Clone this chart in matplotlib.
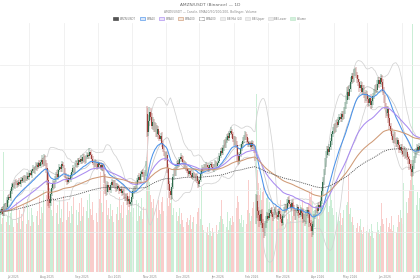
import matplotlib
matplotlib.use("Agg")
import matplotlib.pyplot as plt
import matplotlib.dates as mdates
import numpy as np
import pandas as pd
from matplotlib.patches import Rectangle

# ---------------- data ----------------
start_date = "2025-06-20"
first_open = 189.4
# days that opened with a gap (day index -> open price)
gap_opens = {132: 236.5, 230: 188.0}

closes = [
    190.0, 191.2, 188.8, 191.5, 193.0, 192.1, 195.4, 197.0, 196.2, 199.5,
    201.8, 203.0, 202.1, 204.2, 203.5, 202.6, 204.0, 203.1, 205.2, 204.6,
    205.8, 204.9, 206.3, 205.5, 207.0, 206.2, 208.4, 207.5, 209.3, 210.1,
    209.0, 210.8, 212.2, 211.0, 212.9, 211.8, 213.5, 214.6, 212.7, 215.0,
    213.2, 210.5, 205.0, 196.0, 194.2, 198.5, 201.3, 203.6, 202.2, 205.4,
    207.8, 206.5, 209.6, 211.2, 210.0, 212.4, 211.5, 209.2, 207.0, 205.3,
    204.1, 206.0, 204.8, 207.2, 208.8, 210.5, 209.4, 211.8, 213.0, 212.1,
    214.3, 213.5, 215.2, 214.0, 216.1, 215.0, 213.8, 215.9, 217.0, 216.2,
    218.3, 216.8, 214.9, 213.2, 212.0, 213.6, 212.5, 211.3, 213.0, 212.2,
    210.8, 211.9, 210.6, 206.0, 201.0, 199.2, 202.8, 201.5, 200.2, 202.6,
    203.8, 202.5, 204.0, 201.9, 200.8, 202.3, 201.2, 199.6, 200.9, 198.8,
    199.9, 197.6, 196.0, 197.2, 194.8, 195.9, 193.6, 194.5, 196.8, 199.5,
    201.0, 200.2, 202.4, 204.8, 206.5, 205.2, 207.8, 209.0, 207.6, 206.2,
    208.5, 209.5, 228.0, 233.0, 237.5, 235.2, 231.0, 232.6, 229.5, 230.8,
    227.0, 229.3, 226.4, 224.8, 226.2, 222.5, 219.8, 217.5, 215.6, 216.8,
    210.5, 203.0, 199.5, 197.6, 201.8, 206.2, 209.4, 208.0, 211.5, 213.0,
    212.1, 214.8, 216.0, 215.2, 213.4, 211.6, 212.8, 210.5, 209.3, 208.0,
    209.1, 207.4, 206.3, 208.2, 207.0, 205.8, 206.9, 204.5, 203.0, 205.2,
    208.0, 210.4, 209.5, 211.6, 210.8, 212.3, 211.0, 209.8, 211.9, 212.7,
    211.4, 210.2, 212.0, 213.1, 211.8, 212.9, 214.2, 216.5, 218.9, 218.0,
    220.4, 222.8, 221.3, 224.0, 226.1, 225.0, 227.4, 228.3, 226.8, 224.5,
    222.9, 224.6, 221.8, 216.5, 214.0, 217.2, 220.3, 222.0, 223.8, 225.4,
    226.9, 225.5, 223.2, 221.9, 222.6, 220.9, 222.5, 221.0, 219.2, 216.0,
    195.0, 190.0, 188.2, 185.5, 188.8, 184.6, 182.0, 179.8, 183.4, 186.2,
    188.0, 186.9, 189.4, 190.5, 188.6, 187.3, 189.8, 190.9, 188.4, 187.5,
    190.2, 188.8, 186.5, 184.6, 187.9, 190.6, 192.4, 191.1, 194.0, 195.6,
    193.5, 191.8, 194.2, 192.0, 189.5, 187.2, 190.3, 191.9, 189.4, 188.2,
    190.5, 189.3, 186.4, 187.8, 185.2, 189.0, 190.8, 188.6, 184.5, 182.9,
    180.6, 183.8, 187.5, 189.2, 191.6, 190.2, 192.8, 191.5, 195.0, 199.5,
    204.0, 208.5, 213.2, 217.0, 219.6, 218.2, 220.8, 223.5, 226.8, 228.4,
    230.2, 229.0, 232.5, 231.4, 233.8, 235.2, 234.0, 236.6, 235.3, 238.0,
    240.5, 243.0, 246.8, 245.2, 248.6, 252.0, 254.5, 253.0, 255.8, 256.9,
    255.2, 253.4, 251.6, 249.0, 250.5, 247.2, 248.8, 245.9, 244.0, 246.3,
    243.5, 241.8, 244.2, 240.6, 242.5, 245.0, 246.8, 249.2, 248.0, 251.0,
    252.6, 250.8, 253.5, 252.0, 247.5, 244.0, 240.6, 237.2, 238.8, 234.5,
    231.0, 228.5, 226.0, 224.2, 226.5, 223.8, 222.0, 223.9, 221.6, 219.5,
    220.8, 218.9, 217.5, 219.2, 216.8, 218.4, 216.0, 214.8, 212.5, 210.0,
    208.6, 211.5, 214.6, 217.2, 218.8, 220.6, 219.4, 221.3,
]

upper_wick = [
    1.2, 0.8, 1.5, 2.0, 0.9, 1.1, 1.6, 0.7, 1.3, 1.0, 1.8, 0.6, 1.2, 0.9, 1.4, 1.1, 0.8, 1.7, 1.0, 1.3,
    0.9, 1.5, 1.1, 0.7, 1.6, 1.2, 0.8, 1.4, 1.0, 1.9, 1.3, 0.9, 1.5, 1.1, 0.8, 1.6, 1.2, 2.1, 1.0, 2.4,
    1.8, 1.5, 2.6, 3.0, 1.4, 2.2, 1.1, 1.6, 0.9, 1.4, 1.2, 1.8, 0.8, 1.3, 1.0, 1.5, 1.1, 0.7, 1.4, 1.2,
    1.0, 1.6, 0.9, 1.3, 1.1, 1.8, 0.7, 1.2, 1.5, 0.9, 1.3, 1.0, 1.7, 0.8, 1.4, 1.1, 1.6, 0.9, 1.2, 1.0,
    1.9, 1.2, 0.8, 1.4, 1.0, 1.5, 0.9, 1.3, 1.1, 0.7, 1.6, 1.2, 1.0, 2.2, 1.8, 1.4, 1.9, 1.1, 1.3, 0.9,
    1.5, 1.0, 1.2, 0.8, 1.4, 1.1, 0.9, 1.6, 1.0, 1.3, 0.8, 1.5, 1.2, 0.9, 1.7, 1.1, 1.4, 1.0, 1.8, 1.3,
    1.1, 0.9, 1.5, 1.2, 1.0, 1.6, 1.3, 0.8, 1.4, 1.1, 1.2, 4.5, 3.8, 3.2, 2.5, 2.0, 1.8, 2.4, 1.5, 1.9,
    1.6, 2.1, 1.3, 1.8, 1.2, 1.5, 1.0, 1.7, 1.1, 1.4, 1.9, 2.3, 1.6, 1.2, 1.8, 1.4, 1.1, 1.6, 1.3, 1.0,
    1.5, 1.2, 1.8, 0.9, 1.3, 1.0, 1.4, 0.8, 1.2, 1.1, 0.9, 1.3, 1.0, 1.5, 0.8, 1.2, 0.9, 1.4, 1.1, 1.0,
    1.3, 1.7, 0.9, 1.2, 1.0, 1.4, 0.8, 1.1, 1.3, 0.9, 1.0, 1.2, 0.8, 1.5, 1.1, 0.9, 1.3, 1.6, 1.2, 1.8,
    1.4, 1.1, 1.6, 1.3, 1.0, 1.5, 1.2, 1.8, 1.1, 0.9, 1.4, 1.2, 1.0, 1.7, 1.3, 1.1, 1.5, 1.2, 1.6, 1.0,
    1.3, 1.1, 1.5, 1.9, 1.2, 1.0, 1.4, 1.1, 1.3, 1.8, 3.5, 2.8, 2.0, 2.4, 1.8, 2.2, 1.6, 2.5, 1.9, 1.4,
    1.7, 1.3, 1.5, 1.1, 1.6, 1.2, 1.4, 1.0, 1.8, 1.3, 1.1, 1.5, 1.2, 1.6, 1.0, 1.4, 1.3, 1.1, 1.7, 1.2,
    1.5, 1.1, 1.3, 1.6, 1.2, 1.4, 1.0, 1.5, 1.3, 1.1, 1.6, 1.2, 1.8, 1.0, 1.4, 1.7, 1.2, 1.5, 1.9, 1.3,
    2.0, 1.6, 1.3, 1.5, 1.1, 1.4, 1.2, 1.6, 1.8, 2.2, 2.5, 1.9, 2.3, 1.7, 1.5, 1.8, 1.4, 1.6, 1.3, 1.9,
    1.5, 1.8, 1.2, 1.6, 1.4, 1.1, 1.7, 1.3, 1.5, 2.0, 1.8, 2.2, 2.6, 3.0, 1.9, 2.1, 1.7, 1.5, 2.0, 1.8,
    2.2, 1.6, 1.9, 1.4, 1.7, 1.3, 1.8, 1.5, 1.2, 1.6, 1.4, 1.9, 1.3, 1.7, 1.1, 1.5, 1.8, 1.4, 1.6, 1.9,
    1.7, 1.4, 2.0, 1.6, 1.3, 1.8, 1.5, 1.2, 1.6, 1.4, 1.9, 1.3, 1.5, 1.1, 1.7, 1.2, 1.4, 1.6, 1.0, 1.3,
    1.5, 1.2, 1.4, 2.1, 1.3, 1.6, 1.1, 1.5, 1.8, 2.0, 2.4, 3.2, 1.9, 1.5, 1.3, 1.6, 1.2, 1.4,
]

lower_wick = [
    1.0, 1.4, 0.8, 1.2, 1.6, 0.9, 1.1, 1.5, 0.7, 1.3, 1.0, 1.7, 0.9, 1.2, 0.8, 1.4, 1.1, 0.9, 1.5, 1.0,
    1.3, 0.8, 1.6, 1.1, 0.9, 1.4, 1.2, 0.7, 1.5, 1.0, 0.8, 1.3, 1.1, 1.6, 0.9, 1.2, 1.0, 1.4, 1.7, 1.1,
    1.5, 2.0, 2.4, 3.4, 2.8, 1.6, 1.3, 1.0, 1.4, 0.9, 1.2, 1.0, 1.5, 0.8, 1.3, 1.1, 0.9, 1.6, 1.2, 1.4,
    1.7, 1.1, 1.3, 0.9, 1.5, 1.0, 1.2, 1.4, 0.8, 1.3, 1.1, 1.6, 0.9, 1.2, 1.0, 1.5, 1.3, 0.8, 1.1, 1.4,
    1.2, 1.6, 1.0, 1.3, 1.5, 0.9, 1.2, 1.4, 1.0, 1.3, 1.1, 1.5, 1.2, 2.5, 2.9, 1.8, 1.2, 1.5, 1.0, 1.3,
    1.1, 1.4, 0.9, 1.3, 1.6, 1.0, 1.2, 1.5, 0.8, 1.4, 1.2, 1.7, 1.3, 1.0, 1.9, 1.2, 1.6, 1.1, 1.4, 1.0,
    1.3, 1.1, 0.9, 1.4, 1.2, 1.0, 1.5, 1.3, 1.1, 1.6, 1.0, 1.8, 2.6, 2.0, 2.4, 1.7, 1.5, 2.1, 1.4, 1.8,
    1.3, 1.6, 1.9, 1.4, 1.2, 1.7, 1.5, 1.1, 1.6, 1.3, 2.2, 2.8, 3.1, 2.0, 1.5, 1.2, 1.4, 1.0, 1.3, 1.1,
    1.2, 1.0, 1.4, 1.1, 1.5, 0.9, 1.3, 1.2, 1.0, 1.6, 1.1, 1.4, 0.9, 1.2, 1.0, 1.5, 1.3, 1.1, 1.8, 1.2,
    1.0, 1.3, 1.1, 0.9, 1.2, 1.0, 1.4, 0.8, 1.1, 1.0, 1.2, 0.9, 1.3, 1.0, 1.1, 1.4, 0.9, 1.2, 1.0, 1.3,
    1.1, 1.4, 1.2, 1.0, 1.5, 1.2, 1.3, 1.1, 1.6, 1.4, 1.7, 1.2, 1.5, 2.3, 2.0, 1.3, 1.1, 1.4, 1.2, 1.0,
    1.4, 1.2, 1.6, 1.1, 1.3, 1.5, 1.0, 1.4, 1.2, 1.9, 4.0, 3.2, 2.6, 2.9, 2.2, 2.5, 2.0, 2.7, 1.8, 1.5,
    1.6, 1.4, 1.2, 1.5, 1.3, 1.7, 1.1, 1.4, 1.6, 1.2, 1.5, 1.3, 1.8, 1.4, 1.2, 1.0, 1.3, 1.5, 1.1, 1.4,
    1.2, 1.6, 1.4, 1.1, 1.8, 1.5, 1.3, 1.2, 1.6, 1.4, 1.1, 1.5, 1.9, 1.3, 2.0, 1.4, 1.2, 1.7, 2.2, 2.4,
    2.8, 1.7, 1.5, 1.3, 1.6, 1.2, 1.4, 1.1, 1.5, 1.3, 1.6, 1.4, 1.2, 1.8, 1.5, 1.3, 1.7, 1.4, 1.6, 1.2,
    1.4, 1.7, 1.3, 1.5, 1.2, 1.6, 1.4, 1.1, 1.5, 1.3, 1.6, 1.4, 1.9, 1.7, 2.1, 1.5, 1.3, 1.6, 1.4, 1.2,
    1.7, 1.9, 1.5, 2.0, 1.6, 1.8, 1.4, 1.7, 2.1, 1.5, 1.8, 2.0, 1.6, 1.9, 1.4, 1.7, 1.5, 1.3, 1.6, 1.4,
    1.5, 1.8, 1.3, 1.7, 2.0, 2.2, 1.9, 2.4, 1.8, 2.1, 2.3, 1.7, 2.0, 1.6, 1.4, 1.8, 1.5, 1.3, 1.7, 1.6,
    1.4, 1.8, 1.6, 1.3, 1.9, 1.5, 1.7, 2.2, 2.6, 2.9, 2.1, 1.8, 1.5, 1.3, 1.6, 1.2, 1.5, 1.3,
]

volumes = [
    60, 48, 54, 120, 67, 50, 56, 72, 47, 59,
    64, 52, 45, 57, 70, 49, 54, 62, 43, 58,
    51, 67, 55, 48, 73, 52, 60, 46, 64, 57,
    50, 69, 56, 61, 47, 74, 53, 65, 59, 82,
    122, 77, 96, 102, 84, 70, 62, 56, 74, 51,
    59, 67, 48, 72, 54, 63, 50, 76, 57, 52,
    70, 55, 61, 49, 66, 58, 75, 53, 62, 47,
    60, 69, 51, 74, 56, 65, 48, 61, 72, 54,
    78, 63, 57, 70, 52, 67, 59, 50, 64, 73,
    100, 69, 60, 88, 94, 72, 57, 64, 53, 68,
    56, 62, 50, 71, 58, 65, 52, 75, 59, 67,
    54, 70, 73, 57, 79, 62, 84, 60, 67, 55,
    64, 58, 72, 51, 69, 56, 61, 74, 53, 65,
    60, 115, 165, 105, 90, 77, 70, 64, 73, 59,
    67, 54, 72, 62, 58, 70, 75, 61, 66, 56,
    74, 66, 80, 69, 82, 57, 64, 53, 60, 51,
    56, 64, 48, 59, 52, 45, 58, 50, 54, 47,
    52, 57, 43, 50, 55, 41, 48, 60, 64, 46,
    53, 85, 47, 42, 51, 39, 45, 37, 49, 41,
    36, 44, 40, 33, 47, 38, 42, 50, 56, 72,
    53, 48, 57, 45, 60, 42, 51, 54, 47, 56,
    50, 58, 64, 76, 70, 53, 49, 57, 45, 52,
    55, 48, 62, 92, 59, 51, 56, 64, 70, 82,
    179, 102, 89, 77, 84, 72, 80, 86, 67, 74,
    78, 62, 70, 57, 65, 60, 53, 68, 56, 51,
    59, 64, 72, 55, 61, 50, 57, 66, 53, 62,
    58, 51, 65, 56, 70, 74, 52, 60, 63, 55,
    67, 59, 72, 64, 76, 57, 62, 69, 80, 75,
    84, 70, 61, 67, 58, 64, 53, 60, 65, 72,
    62, 69, 74, 69, 78, 60, 66, 87, 72, 64,
    57, 52, 60, 48, 55, 51, 59, 47, 54, 62,
    56, 67, 70, 98, 58, 64, 50, 55, 47, 52,
    44, 49, 40, 46, 53, 42, 38, 45, 50, 41,
    47, 39, 43, 36, 48, 41, 34, 45, 40, 50,
    42, 38, 46, 69, 53, 48, 42, 54, 40, 45,
    49, 43, 56, 41, 47, 52, 39, 45, 57, 50,
    62, 54, 48, 89, 56, 70, 59, 74, 82, 92,
    102, 249, 87, 72, 67, 80, 62, 74,
]

ema_spans = [20, 50, 100, 200]
bb_period = 20
title = "AMZN/USDT (Binance) \u2014 1D"
subtitle = "AMZN/USDT \u2014 Candle, EMA20/50/100/200, Bollinger, Volume"
legend_labels = ["AMZN/USDT", "EMA20", "EMA50", "EMA100", "EMA200",
                 "BB Mid (20)", "BB Upper", "BB Lower", "Volume"]

# ---------------- derived ----------------
dates = pd.date_range(start_date, periods=len(closes), freq="D")
xd = mdates.date2num(dates)
close = np.array(closes, dtype=float)
opens = np.concatenate([[first_open], close[:-1]])
for k, v in gap_opens.items():
    opens[k] = v
highs = np.maximum(opens, close) + np.array(upper_wick)
lows = np.minimum(opens, close) - np.array(lower_wick)
up = close >= opens

s = pd.Series(close)
emas = {n: s.ewm(span=n, adjust=False).mean().values for n in ema_spans}
bb_mid = s.rolling(bb_period, min_periods=1).mean()
bb_sd = s.rolling(bb_period, min_periods=1).std(ddof=0)
bb_up = (bb_mid + 2 * bb_sd).values
bb_lo = (bb_mid - 2 * bb_sd).values
bb_mid = bb_mid.values

# ---------------- style ----------------
UP_C = "#2f6b4c"
DN_C = "#a03f3b"
VOL_UP = "#cbeed6"
VOL_DN = "#f9cdcb"
EMA_C = {20: "#4b93ea", 50: "#a98bf0", 100: "#cf9a76", 200: "#444444"}
BB_C = "#d2d2d2"
BB_MID_C = "#c4c4c4"
GRID_C = "#efefef"

W, H = 420, 280
fig = plt.figure(figsize=(W / 100, H / 100), dpi=100)
fig.patch.set_facecolor("white")
ax_bottom, ax_top = 272, 23
ax = fig.add_axes([0, (H - ax_bottom) / H, 1, (ax_bottom - ax_top) / H])
axp = ax.twinx()

# volume
ax.bar(xd, volumes, width=0.75, color=[VOL_UP if u else VOL_DN for u in up],
       linewidth=0, zorder=1)
ax.set_ylim(0, 250)

# price candles
cols = [UP_C if u else DN_C for u in up]
axp.vlines(xd, lows, highs, colors=cols, linewidth=0.35, zorder=3)
body_lo = np.minimum(opens, close)
body_h = np.maximum(np.abs(close - opens), 0.25)
axp.bar(xd, body_h, bottom=body_lo, width=0.62, color=cols, linewidth=0, zorder=4)

# bollinger
axp.plot(xd, bb_up, color=BB_C, lw=0.55, zorder=2)
axp.plot(xd, bb_lo, color=BB_C, lw=0.55, zorder=2)
axp.plot(xd, bb_mid, color=BB_MID_C, lw=0.55, zorder=2)

# EMAs
for n in ema_spans:
    if n == 200:
        axp.plot(xd, emas[n], color=EMA_C[n], lw=0.6, ls=(0, (1.2, 1.2)), zorder=5)
    else:
        axp.plot(xd, emas[n], color=EMA_C[n], lw=0.75, zorder=5)

axp.set_ylim(161, 280)
ax.set_xlim(xd[0] - 0.5, xd[-1] + 0.5)

# grid & ticks
ax.xaxis.set_major_locator(mdates.MonthLocator())
ax.xaxis.set_major_formatter(mdates.DateFormatter("%b %Y"))
ax.xaxis.set_minor_locator(mdates.MonthLocator(bymonthday=16))
ax.grid(which="minor", axis="x", color=GRID_C, lw=0.6, zorder=0)
ax.grid(which="major", axis="x", visible=False)
axp.set_yticks([180, 200, 220, 240, 260])
axp.grid(axis="y", color=GRID_C, lw=0.6, zorder=0)
ax.set_yticks([])
axp.tick_params(axis="y", length=0, labelright=False)
ax.tick_params(axis="x", which="both", length=0, pad=2.0, labelsize=2.1, labelcolor="#8a8a8a")
for a in (ax, axp):
    for sp in a.spines.values():
        sp.set_visible(False)
ax.set_zorder(0)
axp.set_zorder(1)
axp.patch.set_visible(False)

# titles
fig.text(0.5, 1 - 5.3 / H, title, ha="center", va="center", fontsize=3.1, color="#666666")
fig.text(0.5, 1 - 12.3 / H, subtitle, ha="center", va="center", fontsize=2.2, color="#8a8a8a")

# legend (pixel overlay)
ov = fig.add_axes([0, 0, 1, 1])
ov.set_xlim(0, W)
ov.set_ylim(H, 0)
ov.axis("off")
ov.patch.set_visible(False)
box_x = [113.3, 140, 159, 178.3, 199, 220, 245, 267.7, 290]
box_styles = [
    dict(fc="#555555", ec="#444444", ls="-"),
    dict(fc="#dbe8fb", ec=EMA_C[20], ls="-"),
    dict(fc="#ebe3fc", ec=EMA_C[50], ls="-"),
    dict(fc="#f5e8de", ec=EMA_C[100], ls="-"),
    dict(fc="white", ec="#444444", ls=(0, (1, 1))),
    dict(fc="#ececec", ec="#d6d6d6", ls="-"),
    dict(fc="#ececec", ec="#d6d6d6", ls="-"),
    dict(fc="#ececec", ec="#d6d6d6", ls="-"),
    dict(fc="#d3f0dc", ec="#bde6c9", ls="-"),
]
ly = 18.7
for bx, lab, st in zip(box_x, legend_labels, box_styles):
    ov.add_patch(Rectangle((bx, ly - 1.7), 5.0, 3.4, facecolor=st["fc"],
                           edgecolor=st["ec"], linestyle=st["ls"], lw=0.45))
    ov.text(bx + 6.6, ly, lab, ha="left", va="center", fontsize=1.9, color="#7a7a7a")

fig.savefig("out.png", dpi=100, facecolor="white")
